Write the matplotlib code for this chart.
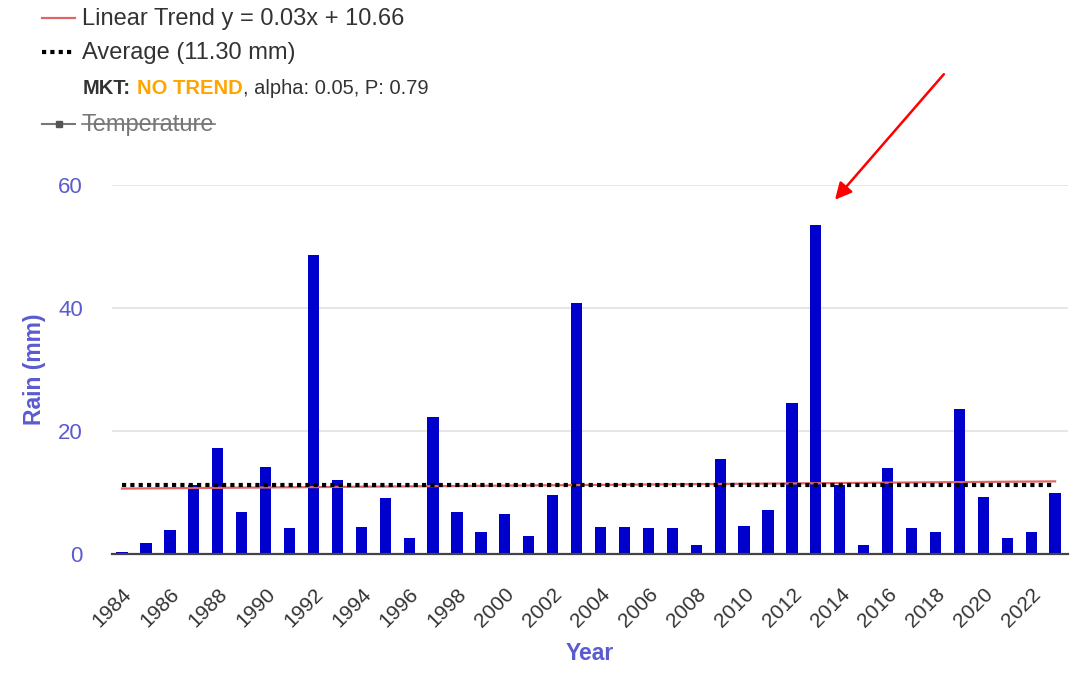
import numpy as np
import matplotlib.pyplot as plt
from matplotlib.lines import Line2D

plt.rcParams['font.family'] = ['Liberation Sans', 'DejaVu Sans']

#################################data############################################
years = list(range(1984, 2024))
rain_mm = [0.3, 1.8, 3.9, 11.2, 17.2, 6.8, 14.1, 4.2, 48.6, 12.0,
           4.4, 9.1, 2.6, 22.3, 6.8, 3.6, 6.6, 2.9, 9.6, 40.8,
           4.4, 4.4, 4.2, 4.2, 1.5, 15.4, 4.5, 7.2, 24.5, 53.5,
           11.2, 1.5, 14.0, 4.2, 3.6, 23.6, 9.3, 2.6, 3.6, 9.9]
average = 11.30
trend_slope = 0.03
trend_icpt = 10.66
tick_years = years[::2]
arrow_start = (2018.35, 78.0)
arrow_end = (2013.8, 57.6)

#################################plot############################################
label_col = '#5b5bd0'
text_col = '#333333'

fig = plt.figure(figsize=(10.81, 6.75), dpi=100)
ax = fig.add_axes([0.1036, 0.179, 0.8844, 0.547])

idx = np.arange(len(years))
ax.bar(years, rain_mm, width=0.47, color='#0000cc', zorder=2)

# ---- trend + average ----
trend = trend_slope * idx + trend_icpt
ax.plot(years, trend, color='#e06666', lw=1.6, zorder=3)
ax.plot([years[0], years[-1]], [average, average], color='black', lw=3,
        linestyle=(0, (1, 1)), zorder=4)

ax.set_xlim(years[0] - 0.42, years[-1] + 0.54)
ax.set_ylim(0, 60)
ax.set_yticks([0, 20, 40, 60])
ax.set_xticks(tick_years)
ax.set_xticklabels([str(y) for y in tick_years], rotation=45, ha='right',
                   rotation_mode='anchor', fontsize=15, color=text_col)
ax.tick_params(axis='y', length=0, pad=21, labelsize=16, labelcolor=label_col)
ax.tick_params(axis='x', length=0, pad=22)
ax.grid(axis='y', color='#e4e4e4', lw=1.3, zorder=0)
for s in ['top', 'right', 'left']:
    ax.spines[s].set_visible(False)
ax.spines['bottom'].set_color('#444444')
ax.spines['bottom'].set_linewidth(1.6)
ax.spines['bottom'].set_zorder(5)

ax.set_ylabel('Rain (mm)', fontsize=16.5, fontweight='bold', color=label_col, labelpad=9)
ax.set_xlabel('Year', fontsize=16.5, fontweight='bold', color=label_col, labelpad=8)

# ---- arrow ----
ax.annotate('', xy=arrow_end, xytext=arrow_start, annotation_clip=False,
            arrowprops=dict(arrowstyle='-|>', color='red', lw=1.8,
                            mutation_scale=25, shrinkA=0, shrinkB=0))

# ---- legend (custom, top-left) ----
W, H = 1081, 675
def fx(px):
    return px / W
def fy(py):
    return 1 - py / H

fig.add_artist(Line2D([fx(42), fx(75)], [fy(18), fy(18)], color='#e06666', lw=1.6))
fig.text(fx(82), fy(19), 'Linear Trend y = 0.03x + 10.66', fontsize=17,
         color=text_col, va='center')
fig.add_artist(Line2D([fx(42), fx(75)], [fy(52), fy(52)], color='black', lw=3,
                      linestyle=(0, (1, 1))))
fig.text(fx(82), fy(53), 'Average (11.30 mm)', fontsize=17, color=text_col, va='center')

fig.canvas.draw()
r = fig.canvas.get_renderer()
t1 = fig.text(fx(83), fy(89), 'MKT:', fontsize=14.5, fontweight='bold',
              color=text_col, va='center')
x = t1.get_window_extent(r).x1 + 6
t2 = fig.text(x / W, fy(89), 'NO TREND', fontsize=14.5, fontweight='bold',
              color='#ffa500', va='center')
x = t2.get_window_extent(r).x1
fig.text(x / W, fy(89), ', alpha: 0.05, P: 0.79', fontsize=14.5,
         color=text_col, va='center')

fig.add_artist(Line2D([fx(42), fx(75)], [fy(124), fy(124)], color='#777777', lw=1.5))
fig.add_artist(Line2D([fx(58.5)], [fy(124)], color='#555555', marker='s', markersize=4.5, lw=0))
t4 = fig.text(fx(82), fy(125), 'Temperature', fontsize=17, color='#777777', va='center')
bb = t4.get_window_extent(r)
fig.add_artist(Line2D([bb.x0 / W, bb.x1 / W], [fy(124), fy(124)], color='#777777', lw=1.2))

fig.savefig('out.png', dpi=100)
